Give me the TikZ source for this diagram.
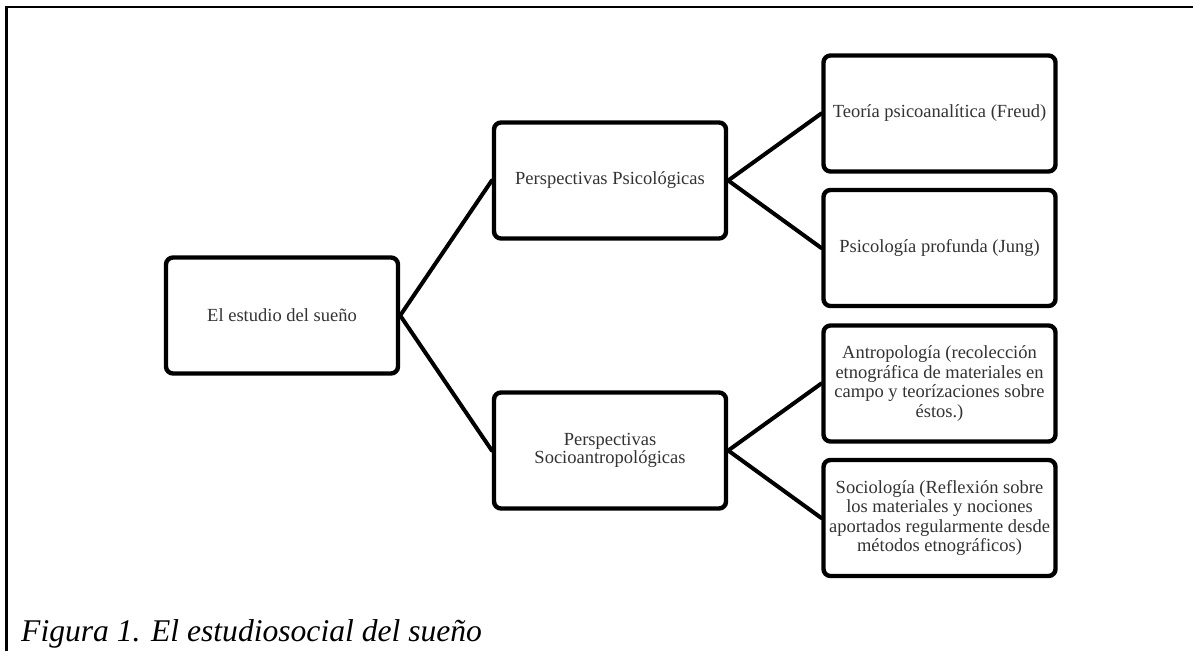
\documentclass[tikz,border=0pt]{standalone}
\usepackage{fontspec}
\setmainfont{Liberation Serif}
\usepackage{tikz}
\usetikzlibrary{positioning}
\definecolor{cTxt} {HTML}{333333}
\definecolor{cLine}{HTML}{000000}
\tikzset{
  caja/.style ={draw=cLine,fill=white,rounded corners=7pt,line width=4.4pt,
                align=center,inner sep=2pt,text=cTxt,
                minimum width=232pt,minimum height=116pt,
                font=\fontsize{18.5}{19.6}\selectfont},
  rama/.style ={draw=cLine,line width=4pt,line cap=round},
  marco/.style={draw=cLine,line width=2.4pt},
  pie/.style  ={font=\fontsize{31.6}{35}\selectfont\itshape,inner sep=0pt},
}

\begin{document}
\begin{tikzpicture}[x=1pt, y=-1pt]
\useasboundingbox (0,0) rectangle (1193,650);

% ---- frame, open at right and bottom ------------------------------------
\draw[marco] (6.5,652) -- (6.5,7.3) -- (1195,7.3);

% ---- root and the two perspectives --------------------------------------
\node[caja] (raiz)  at (282,315.5)  {El estudio del sueño};
\node[caja] (psic)  at (610,180.5)  {Perspectivas Psicológicas};
\node[caja] (socio) at (610,450.5)  {Perspectivas\\[-1pt] Socioantropológicas};

% ---- leaves: {name}/{y}/{text} ------------------------------------------
\foreach \nm/\yy/\txt in {%
  freud/113.5/{Teoría psicoanalítica (Freud)},
  jung/248/{Psicología profunda (Jung)},
  antro/383.5/{Antropología (recolección\\ etnográfica de materiales en\\ campo y teorízaciones sobre\\ éstos.)},
  sociol/518/{Sociología (Reflexión sobre\\ los materiales y nociones\\ aportados regularmente desde\\ métodos etnográficos)}}{%
    \node[caja] (\nm) at (939.5,\yy) {\txt};
}

% ---- branches -----------------------------------------------------------
\foreach \a/\b in {raiz/psic, raiz/socio, psic/freud, psic/jung,
                   socio/antro, socio/sociol}{%
  \draw[rama] (\a.east) -- (\b.west);
}

% ---- caption, its descenders run off the page ---------------------------
\node[pie,anchor=base west] (titulo) at (21,641)
  {Figura 1. El estudiosocial del sueño};
\end{tikzpicture}
\end{document}
